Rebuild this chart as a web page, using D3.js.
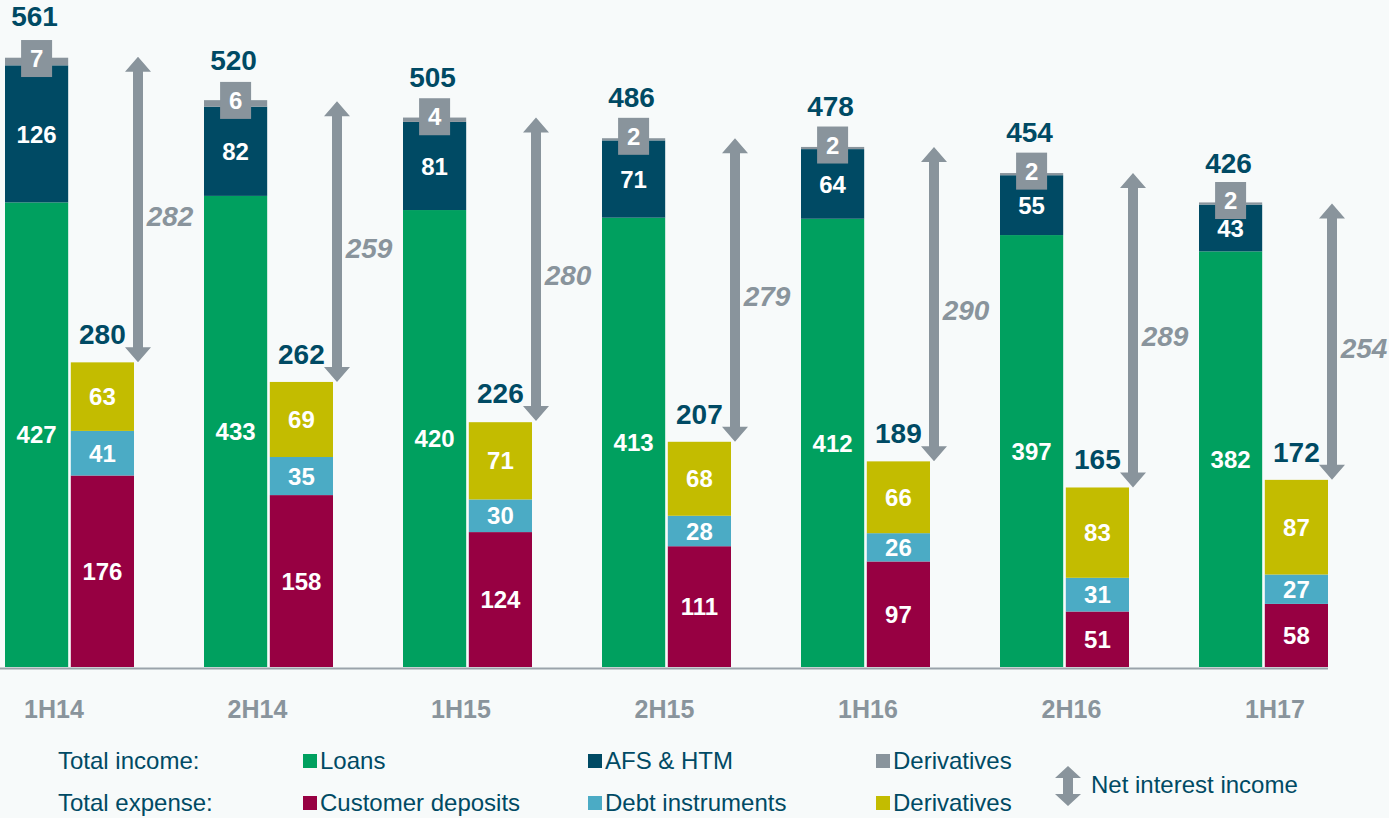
<html>
  <head>
    <title>Interest income and expense</title>
    <style>
      body { margin: 0; background: #f7fafa; }
      svg { display: block; font-family: Arial, "Liberation Sans", sans-serif; }
    </style>
  </head>
  <body>
    <script type="text/javascript" src="https://d3js.org/d3.v7.min.js"></script>
    <script type="text/javascript">
    var periods = ["1H14", "2H14", "1H15", "2H15", "1H16", "2H16", "1H17"];
    var loans = [427, 433, 420, 413, 412, 397, 382];
    var afsHtm = [126, 82, 81, 71, 64, 55, 43];
    var incomeDerivatives = [7, 6, 4, 2, 2, 2, 2];
    var incomeTotal = [561, 520, 505, 486, 478, 454, 426];
    var deposits = [176, 158, 124, 111, 97, 51, 58];
    var debtInstruments = [41, 35, 30, 28, 26, 31, 27];
    var expenseDerivatives = [63, 69, 71, 68, 66, 83, 87];
    var expenseTotal = [280, 262, 226, 207, 189, 165, 172];
    var netInterest = [282, 259, 280, 279, 290, 289, 254];

    var w = 1389;
    var h = 818;
    var baseY = 667;

    var teal = "#004a64";
    var grey = "#89949c";
    var colours = {
      loans: "#00a05f", afs: "#004a64", incDer: "#89949c",
      deposits: "#970042", debt: "#4babc5", expDer: "#c3bc00"
    };

    var svg = d3.select("body")
                .append("svg")
                .attr("width", w)
                .attr("height", h);

    var x0 = d3.scaleBand()
               .domain(periods)
               .range([5, 1328])
               .paddingInner(70 / 199)
               .paddingOuter(0);
    var x1 = d3.scaleBand()
               .domain(["income", "expense"])
               .range([0, x0.bandwidth()])
               .paddingInner(0.04);
    var y = d3.scaleLinear()
              .domain([0, 600])
              .range([baseY, baseY - 600 * 1.088]);
    var xLabel = d3.scalePoint()
                   .domain(periods)
                   .range([54, 1275]);

    var rows = periods.map(function(p, i) {
      return {
        period: p, loans: loans[i], afs: afsHtm[i], incDer: incomeDerivatives[i],
        deposits: deposits[i], debt: debtInstruments[i], expDer: expenseDerivatives[i]
      };
    });

    var incomeStack = d3.stack().keys(["loans", "afs", "incDer"])(rows);
    var expenseStack = d3.stack().keys(["deposits", "debt", "expDer"])(rows);

    function drawStack(series, side) {
      var g = svg.append("g");
      series.forEach(function(s) {
        g.selectAll("rect." + s.key)
         .data(s)
         .enter()
         .append("rect")
         .attr("x", function(d) { return x0(d.data.period) + x1(side); })
         .attr("y", function(d) { return y(d[1]); })
         .attr("width", x1.bandwidth())
         .attr("height", function(d) { return y(d[0]) - y(d[1]); })
         .attr("fill", colours[s.key]);
      });
      series.forEach(function(s) {
        var shift = 0;
        if (s.key == "incDer") {
          shift = -3;
          g.selectAll("rect.box")
           .data(s)
           .enter()
           .append("rect")
           .attr("x", function(d) { return x0(d.data.period) + x1(side) + x1.bandwidth() / 2 - 15.5; })
           .attr("y", function(d) { return (y(d[0]) + y(d[1])) / 2 - 18.5 + shift; })
           .attr("width", 31)
           .attr("height", 37)
           .attr("fill", grey);
        }
        g.selectAll("text." + s.key)
         .data(s)
         .enter()
         .append("text")
         .attr("x", function(d) { return x0(d.data.period) + x1(side) + x1.bandwidth() / 2; })
         .attr("y", function(d) { return (y(d[0]) + y(d[1])) / 2 + shift; })
         .attr("dy", "0.36em")
         .attr("text-anchor", "middle")
         .style("font-size", "24px")
         .style("font-weight", "bold")
         .attr("fill", "#fff")
         .text(function(d) { return d.data[s.key]; });
      });
    }
    drawStack(incomeStack, "income");
    drawStack(expenseStack, "expense");

    svg.append("line")
       .attr("x1", 0)
       .attr("x2", 1328)
       .attr("y1", baseY + 1.5)
       .attr("y2", baseY + 1.5)
       .attr("stroke", "#9aa3aa")
       .attr("stroke-width", 2);

    svg.selectAll("text.inctotal")
       .data(incomeTotal)
       .enter()
       .append("text")
       .attr("x", function(d, i) { return x0(periods[i]) + x1("income") + x1.bandwidth() / 2 - 2; })
       .attr("y", function(d) { return y(d) - 31; })
       .attr("text-anchor", "middle")
       .style("font-size", "28px")
       .style("font-weight", "bold")
       .attr("fill", teal)
       .text(function(d) { return d; });

    svg.selectAll("text.exptotal")
       .data(expenseTotal)
       .enter()
       .append("text")
       .attr("x", function(d, i) { return x0(periods[i]) + x1("expense") + x1.bandwidth() / 2; })
       .attr("y", function(d) { return y(d) - 18; })
       .attr("text-anchor", "middle")
       .style("font-size", "28px")
       .style("font-weight", "bold")
       .attr("fill", teal)
       .text(function(d) { return d; });

    function arrowPath(x, top, bottom, hw, hh, sw) {
      return "M" + x + "," + top +
             "L" + (x + hw) + "," + (top + hh) + "L" + (x + sw) + "," + (top + hh) +
             "L" + (x + sw) + "," + (bottom - hh) + "L" + (x + hw) + "," + (bottom - hh) +
             "L" + x + "," + bottom +
             "L" + (x - hw) + "," + (bottom - hh) + "L" + (x - sw) + "," + (bottom - hh) +
             "L" + (x - sw) + "," + (top + hh) + "L" + (x - hw) + "," + (top + hh) + "Z";
    }

    svg.selectAll("path.nii")
       .data(netInterest)
       .enter()
       .append("path")
       .attr("d", function(d, i) {
         return arrowPath(x0(periods[i]) + x0.bandwidth() + 4, y(incomeTotal[i]), y(expenseTotal[i]), 13, 15, 5);
       })
       .attr("fill", grey);

    svg.selectAll("text.nii")
       .data(netInterest)
       .enter()
       .append("text")
       .attr("x", function(d, i) { return x0(periods[i]) + x0.bandwidth() + 36; })
       .attr("y", function(d, i) { return (y(incomeTotal[i]) + y(expenseTotal[i])) / 2 + 6; })
       .attr("dy", "0.36em")
       .attr("text-anchor", "middle")
       .style("font-size", "28px")
       .style("font-weight", "bold")
       .style("font-style", "italic")
       .attr("fill", grey)
       .text(function(d) { return d; });

    svg.selectAll("text.period")
       .data(periods)
       .enter()
       .append("text")
       .attr("x", function(d) { return xLabel(d); })
       .attr("y", 718)
       .attr("text-anchor", "middle")
       .style("font-size", "25px")
       .style("font-weight", "bold")
       .attr("fill", grey)
       .text(function(d) { return d; });

    // legend
    var legendRows = ["Total income:", "Total expense:"];
    var legendItems = [
      { label: "Loans", colour: colours.loans, col: 0, row: 0 },
      { label: "AFS & HTM", colour: colours.afs, col: 1, row: 0 },
      { label: "Derivatives", colour: colours.incDer, col: 2, row: 0 },
      { label: "Customer deposits", colour: colours.deposits, col: 0, row: 1 },
      { label: "Debt instruments", colour: colours.debt, col: 1, row: 1 },
      { label: "Derivatives", colour: colours.expDer, col: 2, row: 1 }
    ];
    var colX = [303, 588, 876];
    var rowY = [769, 811];

    svg.selectAll("text.legrow")
       .data(legendRows)
       .enter()
       .append("text")
       .attr("x", 58)
       .attr("y", function(d, i) { return rowY[i]; })
       .style("font-size", "24px")
       .attr("fill", teal)
       .text(function(d) { return d; });

    var items = svg.selectAll("g.legitem")
                   .data(legendItems)
                   .enter()
                   .append("g")
                   .attr("transform", function(d) { return "translate(" + colX[d.col] + "," + rowY[d.row] + ")"; });
    items.append("rect")
         .attr("x", 0)
         .attr("y", -15)
         .attr("width", 14)
         .attr("height", 14)
         .attr("fill", function(d) { return d.colour; });
    items.append("text")
         .attr("x", 17)
         .attr("y", 0)
         .style("font-size", "24px")
         .attr("fill", teal)
         .text(function(d) { return d.label; });

    svg.append("path")
       .attr("d", arrowPath(1068, 766, 806, 13, 12, 5))
       .attr("fill", grey);
    svg.append("text")
       .attr("x", 1091)
       .attr("y", 793)
       .style("font-size", "24px")
       .attr("fill", teal)
       .text("Net interest income");
    </script>
  </body>
</html>
